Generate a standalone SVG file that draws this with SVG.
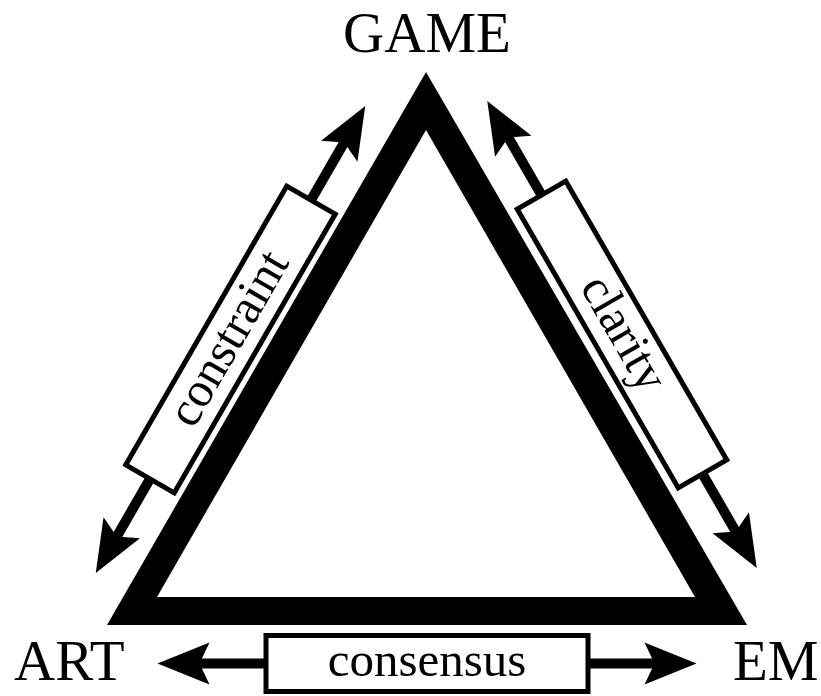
<svg xmlns="http://www.w3.org/2000/svg" xmlns:xlink="http://www.w3.org/1999/xlink" width="821" height="696" viewBox="0 0 821 696">
  <style>
    .node { font-family: "Liberation Serif", "Times New Roman", serif; font-size: 57px; fill: #000; }
    .lbl { font-family: "Liberation Serif", "Times New Roman", serif; font-size: 49px; fill: #000; text-anchor: middle; }
    .shaft { stroke: #000; stroke-width: 10; fill: none; }
    .box { fill: #fff; stroke: #000; stroke-width: 5; }
  </style>
  <defs>
    <path id="head" d="M0,0 L-52,-21 L-42,0 L-52,21 Z" fill="#000"/>
  </defs>
  <rect width="821" height="696" fill="#fff"/>

  <g id="triangle">
    <path d="M426,72 L107,625 L747,625 Z M426,130 L157,597 L695,597 Z" fill="#000" fill-rule="evenodd"/>
  </g>

  <g id="node-game"><text class="node" x="427" y="52" text-anchor="middle">GAME</text></g>
  <g id="node-art"><text class="node" x="14" y="680">ART</text></g>
  <g id="node-em"><text class="node" x="733" y="680">EM</text></g>

  <g id="connectors">
    <g id="edge-constraint" transform="translate(230.5,339.5) rotate(-60)">
      <line class="shaft" x1="-230" y1="0" x2="230" y2="0"/>
      <use xlink:href="#head" href="#head" transform="translate(269.5,0)"/>
      <use xlink:href="#head" href="#head" transform="translate(-269.5,0) rotate(180)"/>
      <rect class="box" x="-161" y="-28" width="322" height="56"/>
      <text class="lbl" x="0" y="13">constraint</text>
    </g>
    <g id="edge-clarity" transform="translate(622,334.5) rotate(60)">
      <line class="shaft" x1="-230" y1="0" x2="230" y2="0"/>
      <use xlink:href="#head" href="#head" transform="translate(269.5,0)"/>
      <use xlink:href="#head" href="#head" transform="translate(-269.5,0) rotate(180)"/>
      <rect class="box" x="-161" y="-28" width="322" height="56"/>
      <text class="lbl" x="0" y="13">clarity</text>
    </g>
    <g id="edge-consensus" transform="translate(427,663.5)">
      <line class="shaft" x1="-230" y1="0" x2="230" y2="0"/>
      <use xlink:href="#head" href="#head" transform="translate(269.5,0)"/>
      <use xlink:href="#head" href="#head" transform="translate(-269.5,0) rotate(180)"/>
      <rect class="box" x="-161" y="-28" width="322" height="56"/>
      <text class="lbl" x="0" y="12">consensus</text>
    </g>
  </g>
</svg>
